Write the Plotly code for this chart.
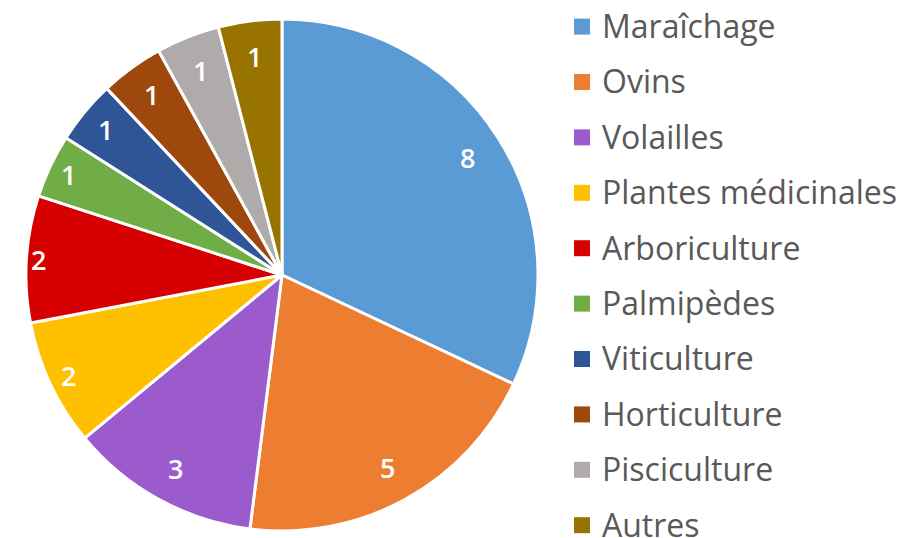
import math
import plotly.graph_objects as go

categories = ["Maraîchage", "Ovins", "Volailles", "Plantes médicinales", "Arboriculture",
              "Palmipèdes", "Viticulture", "Horticulture", "Pisciculture", "Autres"]
values = [8, 5, 3, 2, 2, 1, 1, 1, 1, 1]
colors = ["#5B9BD5", "#ED7D31", "#9C5BCD", "#FFC000", "#D60000",
          "#70AD47", "#2F5597", "#9E480E", "#AFABAB", "#997300"]

# figure geometry (page body adds an 8px offset)
W, H = 906, 600
cx, cy, r = 274, 267, 256

fig = go.Figure()
fig.add_trace(go.Pie(
    labels=categories, values=values, sort=False, direction="clockwise", rotation=0,
    marker=dict(colors=colors, line=dict(color="white", width=3)),
    textinfo="none", showlegend=False, hoverinfo="label+value",
    domain=dict(x=[(cx - r) / W, (cx + r) / W], y=[(H - cy - r) / H, (H - cy + r) / H]),
))

# value labels near the inside end of each slice
total = sum(values)
cum = 0
for v in values:
    mid = (cum + v / 2) / total * 2 * math.pi
    cum += v
    s = math.sin(mid)
    d = 220 + (24 * s ** 4 if v / total < 0.15 else 0)
    X = cx + d * s
    Y = cy - d * math.cos(mid)
    fig.add_annotation(x=X / W, y=(H - Y) / H, xref="paper", yref="paper",
                       text=str(v), showarrow=False, xanchor="center", yanchor="middle",
                       font=dict(family="Open Sans", size=27, color="white", weight=600))

for i, (c, col) in enumerate(zip(categories, colors)):
    fig.add_trace(go.Scatter(
        x=[None], y=[None], mode="markers", legendgroup=f"g{i}",
        name=f'<span style="font-size:32px;baseline-shift:-6px">{c}</span>',
        marker=dict(symbol="square", size=16, color=col, line=dict(width=0)),
        hoverinfo="skip",
    ))

fig.update_layout(
    width=W, height=H, margin=dict(l=0, r=0, t=0, b=0),
    paper_bgcolor="white", plot_bgcolor="white",
    xaxis=dict(visible=False), yaxis=dict(visible=False),
    legend=dict(x=551 / W, y=1, xanchor="left", yanchor="top",
                font=dict(family="Open Sans", size=14, color="#595959"),
                borderwidth=3, bordercolor="rgba(0,0,0,0)",
                tracegroupgap=34.2, itemclick=False, bgcolor="rgba(0,0,0,0)"),
    font=dict(family="Open Sans"),
)
fig.write_html("out.html")
